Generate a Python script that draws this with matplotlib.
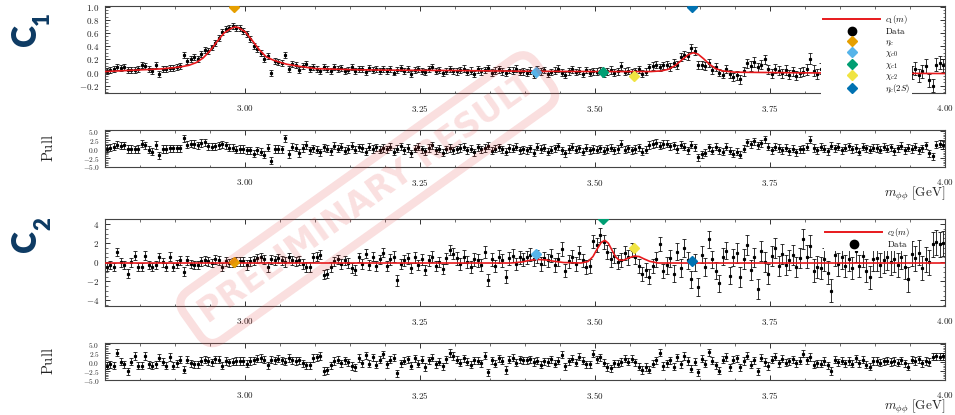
import matplotlib
matplotlib.use('Agg')
import matplotlib.pyplot as plt
import numpy as np
from matplotlib.lines import Line2D
from matplotlib.ticker import MultipleLocator, AutoMinorLocator, FuncFormatter

plt.rcParams['mathtext.fontset'] = 'cm'
plt.rcParams['font.family'] = 'DejaVu Serif'

# --- binning (2.80 - 4.00 GeV, 5 MeV bins) ---
m_lo, m_hi, n_bins = 2.80, 4.00, 240

# --- c1 coefficient: data per bin, rows of 0.1 GeV ---
c1_data = [
    0.02, 0.04, 0.05, 0.08, 0.07, 0.08, 0.04, 0.04, 0.04, 0.05, 0.12, 0.10, 0.05, 0.03, 0.11, -0.02, 0.06, 0.06, 0.07, 0.07,
    0.09, 0.10, 0.26, 0.17, 0.20, 0.24, 0.21, 0.28, 0.34, 0.33, 0.38, 0.45, 0.53, 0.62, 0.66, 0.67, 0.70, 0.68, 0.67, 0.63,
    0.58, 0.51, 0.40, 0.36, 0.30, 0.21, 0.25, -0.01, 0.18, 0.16, 0.14, 0.27, 0.05, 0.13, 0.12, 0.04, 0.10, 0.13, 0.06, 0.08,
    0.05, 0.02, 0.08, 0.06, 0.03, 0.09, 0.05, 0.07, 0.02, 0.04, 0.08, 0.03, 0.06, 0.05, 0.01, 0.07, 0.04, 0.06, 0.03, 0.05,
    0.03, 0.06, 0.00, 0.04, 0.07, 0.02, 0.05, -0.02, 0.04, 0.06, 0.03, 0.01, 0.05, 0.08, 0.02, 0.04, -0.01, 0.03, 0.05, 0.02,
    0.02, 0.04, 0.06, 0.01, 0.03, -0.02, 0.05, 0.02, 0.04, 0.07, 0.00, 0.03, 0.05, 0.02, -0.01, 0.04, 0.03, 0.06, 0.01, 0.02,
    0.00, 0.03, -0.03, 0.05, 0.02, 0.04, -0.02, 0.01, 0.03, 0.06, 0.00, -0.04, 0.02, 0.05, 0.01, 0.03, -0.02, 0.04, 0.00, 0.02,
    0.01, 0.03, -0.01, 0.02, 0.04, 0.00, 0.02, 0.10, 0.01, 0.03, 0.00, 0.02, 0.05, -0.02, 0.01, 0.08, 0.10, 0.12, 0.08, 0.11,
    0.12, 0.09, 0.14, 0.12, 0.24, 0.26, 0.25, 0.37, 0.33, 0.12, 0.12, 0.10, 0.14, 0.04, 0.08, 0.00, -0.03, 0.05, -0.02, -0.07,
    -0.04, -0.10, 0.02, 0.14, 0.10, 0.16, 0.08, 0.12, 0.20, 0.05, -0.02, 0.06, 0.03, -0.01, 0.04, -0.03, 0.02, -0.05, 0.00, 0.01,
    0.05, 0.21, 0.03, -0.02, 0.06, 0.01, -0.04, 0.08, 0.02, 0.05, -0.03, 0.04, 0.07, 0.00, 0.03, -0.05, 0.06, 0.02, -0.01, 0.04,
    0.03, -0.02, 0.07, 0.01, 0.05, -0.06, 0.02, 0.09, -0.03, 0.04, 0.00, 0.06, -0.04, 0.02, 0.10, -0.12, -0.20, 0.12, 0.15, 0.11,
]
c1_err_rows = [0.045, 0.045, 0.045, 0.045, 0.045, 0.05, 0.05, 0.055, 0.06, 0.07, 0.08, 0.10]

c1_pull = [
    0.1, 0.4, 0.7, 1.2, 0.9, 1.0, 0.0, 0.0, -0.1, 0.0, 1.5, 1.0, -0.2, -0.7, 1.1, -1.8, 0.0, 0.0, 0.2, 0.2,
    0.2, 0.2, 3.0, 1.2, 1.5, 1.4, 1.0, 1.7, 1.9, 0.8, 0.6, 0.8, 1.0, 1.3, 1.0, 0.4, 0.4, -0.2, 0.0, 0.0,
    -0.4, -0.4, -1.3, -0.4, -0.7, -1.6, 0.4, -3.3, 0.0, 0.0, -0.1, 3.0, -1.4, 0.6, 0.4, -1.1, 0.3, 1.1, -0.3, 0.2,
    -0.2, -0.9, 0.5, 0.1, -0.6, 0.9, 0.1, 0.6, -0.5, 0.0, 0.9, -0.2, 0.5, 0.3, -0.7, 0.7, 0.0, 0.5, -0.2, 0.3,
    -0.1, 0.6, -0.8, 0.1, 0.8, -0.3, 0.3, -1.2, 0.1, 0.6, -0.1, -0.6, 0.3, 1.0, -0.3, 0.1, -1.0, -0.1, 0.3, -0.3,
    -0.1, 0.3, 0.7, -0.3, 0.1, -0.9, 0.5, -0.1, 0.3, 0.9, -0.5, 0.1, 0.5, -0.1, -0.7, 0.3, 0.1, 0.7, -0.3, -0.1,
    -0.4, 0.2, -1.0, 0.6, 0.0, 0.4, -0.8, -0.2, 0.2, 0.8, -0.4, -1.2, 0.0, 0.6, -0.2, 0.2, -0.8, 0.4, -0.4, 0.0,
    -0.2, 0.2, -0.5, 0.0, 0.4, -0.4, 0.0, 1.5, -0.2, 0.2, -0.4, 0.0, 0.5, -0.7, -0.2, 1.1, 1.4, 1.7, 0.9, 1.4,
    1.5, 0.8, 1.0, 0.0, 1.2, 0.7, -0.3, 1.2, 0.5, -2.3, -1.5, -1.0, 0.5, -0.5, 0.6, -0.4, -0.8, 0.7, -0.5, -1.3,
    -0.7, -1.6, 0.1, 1.9, 1.3, 2.1, 1.0, 1.6, 2.7, 0.6, -0.4, 0.7, 0.3, -0.3, 0.4, -0.6, 0.1, -0.9, -0.1, 0.0,
    0.6, 2.6, 0.3, -0.3, 0.7, 0.1, -0.6, 0.9, 0.2, 0.6, -0.4, 0.4, 0.8, -0.1, 0.3, -0.7, 0.7, 0.2, -0.2, 0.4,
    0.3, -0.2, 0.7, 0.1, 0.5, -0.6, 0.2, 0.9, -0.3, 0.4, 0.0, 0.6, -0.4, 0.2, 1.0, -1.2, -2.0, 1.2, 1.5, 1.1,
]

c1_fit_m = [2.80, 2.83, 2.86, 2.88, 2.90, 2.91, 2.92, 2.93, 2.94, 2.95, 2.96, 2.97, 2.98, 2.985, 2.99,
            3.00, 3.01, 3.02, 3.03, 3.04, 3.05, 3.06, 3.08, 3.10, 3.13, 3.17, 3.22, 3.30, 3.40, 3.50,
            3.58, 3.595, 3.605, 3.615, 3.625, 3.633, 3.640, 3.647, 3.655, 3.663, 3.672, 3.682, 3.70,
            3.80, 3.90, 4.00]
c1_fit_y = [0.015, 0.03, 0.045, 0.055, 0.075, 0.09, 0.11, 0.15, 0.22, 0.33, 0.47, 0.60, 0.67, 0.69, 0.685,
            0.62, 0.49, 0.35, 0.24, 0.19, 0.155, 0.125, 0.09, 0.06, 0.05, 0.04, 0.035, 0.03, 0.02, 0.015,
            0.015, 0.025, 0.05, 0.11, 0.20, 0.27, 0.30, 0.28, 0.21, 0.13, 0.06, 0.025, 0.005,
            -0.005, -0.01, -0.015]

# --- c2 coefficient ---
c2_data = [
    -0.5, -0.3, -0.5, 1.1, 0.0, -0.3, -1.2, 0.0, 0.7, -0.5, -0.5, 0.7, -0.3, -0.5, -0.3, 0.5, 0.0, -0.5, 0.6, -0.5,
    -0.2, 0.2, -1.0, 0.2, -0.2, -0.3, -0.3, 0.1, 0.2, 0.1, -0.1, 0.3, 0.2, -0.5, 0.1, -0.1, 0.0, 0.1, 0.1, 0.1,
    -0.3, 0.1, 0.2, 0.4, 0.5, 0.3, -0.5, 0.3, 0.2, 0.4, 0.2, 0.0, 0.5, 0.2, 0.1, 0.2, -0.2, -0.5, -0.5, 0.5,
    0.6, 0.8, -1.3, -1.2, -0.5, 0.1, 0.3, -0.2, 0.2, -0.1, -0.6, -0.8, 0.5, -0.2, 0.9, -0.3, 0.6, -0.4, 0.3, 1.0,
    -0.4, 0.3, 0.6, -1.9, -0.2, 0.2, 0.4, -0.6, 0.5, -0.3, 0.3, -0.8, 0.2, 0.6, -0.4, 0.0, -0.7, 0.4, 1.3, 0.9,
    0.4, -0.2, 0.6, 0.0, -0.5, 0.3, 0.2, -0.3, 1.1, -1.9, 0.3, -0.4, 0.6, 0.2, -1.5, 0.4, 0.7, -0.2, 0.5, 0.3,
    0.5, 0.8, 0.3, 0.6, -0.2, 0.4, 0.2, 0.7, -0.3, 0.3, 1.4, -0.9, 0.1, 0.6, -0.2, 1.0, 0.2, -0.5, -0.4, 2.2,
    1.8, 2.9, 2.1, 1.1, 0.3, 0.7, 0.0, 0.2, 1.0, 0.5, 1.3, 0.6, -0.4, -1.2, -0.8, -1.5, -0.4, 0.3, 1.9, -0.9,
    -0.3, 0.4, -1.2, 1.1, -0.6, 1.5, 0.2, -1.8, 0.0, -2.6, 0.8, -0.5, 2.4, 0.3, -0.9, -2.2, 0.6, 1.2, -1.4, 0.5,
    1.0, -1.6, 0.3, 1.8, -0.8, 0.5, -2.8, 1.2, 0.0, -1.2, 0.7, 1.5, -0.4, 0.9, -0.3, 0.2, 0.8, -0.5, 0.4, 2.4,
    0.6, 1.7, -0.9, -0.5, -0.6, 0.3, -1.1, -3.0, 0.8, -0.2, 0.5, -0.4, 0.3, -0.6, 1.2, -0.4, 0.7, -0.9, -1.6, 0.3,
    0.4, -0.3, 0.2, 0.5, 0.0, 0.3, -0.3, 0.6, -0.5, -1.8, 0.9, 0.4, 1.0, -0.6, 0.3, 0.0, 1.9, 2.1, 1.9, 2.0,
]
c2_err_rows = [0.45, 0.45, 0.5, 0.5, 0.55, 0.65, 0.7, 0.75, 0.9, 1.05, 1.2, 1.3]

c2_pull = [
    -1.0, -0.6, -1.0, 2.6, 0.1, -0.6, -2.6, 0.1, 1.7, -1.0, -1.0, 1.7, -0.6, -1.0, -0.6, 1.2, 0.1, -1.0, 1.4, -1.0,
    -0.3, 0.6, -2.1, 0.6, -0.3, -0.6, -0.6, 0.3, 0.6, 0.3, -0.1, 0.8, 0.6, -1.0, 0.3, -0.1, 0.1, 0.3, 0.3, 0.3,
    -0.5, 0.3, 0.5, 0.9, 1.1, 0.7, -0.9, 0.7, 0.5, 0.9, 0.5, 0.1, 1.1, 0.5, 0.3, 0.5, -0.3, -0.9, -0.9, 1.1,
    1.3, 1.7, -2.5, -2.3, -0.9, 0.3, 0.7, -0.3, 0.5, -0.1, -1.1, -1.5, 1.1, -0.3, 1.9, -0.5, 1.3, -0.7, 0.7, 2.1,
    -0.6, 0.6, 1.2, -3.1, -0.3, 0.4, 0.8, -1.0, 1.0, -0.5, 0.6, -1.4, 0.5, 1.2, -0.6, 0.1, -1.2, 0.8, 2.5, 1.7,
    0.7, -0.2, 1.0, 0.1, -0.7, 0.5, 0.4, -0.4, 1.8, -2.8, 0.5, -0.5, 1.0, 0.4, -2.2, 0.7, 1.2, -0.2, 0.8, 0.5,
    0.5, 0.8, 0.0, 0.4, -0.7, 0.2, 0.0, 0.8, -0.5, 0.4, 2.0, -1.2, 0.2, 0.9, -0.2, 1.5, 0.4, -0.6, -0.6, 2.3,
    0.8, 1.3, -0.2, -1.4, -1.7, -0.3, -0.5, 0.0, 0.9, 0.1, 0.9, -0.1, -1.3, -2.2, -1.4, -2.1, -0.5, 0.5, 2.6, -1.1,
    -0.3, 0.5, -1.3, 1.3, -0.6, 1.7, 0.3, -1.9, 0.1, -2.8, 0.9, -0.5, 2.7, 0.4, -0.9, -2.4, 0.7, 1.4, -1.5, 0.6,
    1.0, -1.5, 0.3, 1.8, -0.7, 0.5, -2.6, 1.2, 0.0, -1.1, 0.7, 1.5, -0.3, 0.9, -0.2, 0.2, 0.8, -0.4, 0.4, 2.3,
    0.5, 1.4, -0.7, -0.4, -0.5, 0.3, -0.9, -2.5, 0.7, -0.1, 0.4, -0.3, 0.3, -0.5, 1.0, -0.3, 0.6, -0.7, -1.3, 0.3,
    0.3, -0.2, 0.2, 0.4, 0.0, 0.3, -0.2, 0.5, -0.3, -1.3, 0.7, 0.3, 0.8, -0.4, 0.3, 0.0, 1.5, 1.6, 1.5, 1.6,
]

c2_fit_m = [2.80, 3.38, 3.395, 3.405, 3.417, 3.43, 3.44, 3.455, 3.48, 3.49, 3.497, 3.503, 3.509, 3.514,
            3.519, 3.524, 3.529, 3.534, 3.540, 3.548, 3.556, 3.563, 3.570, 3.578, 3.59, 4.00]
c2_fit_y = [-0.08, -0.08, 0.02, 0.18, 0.30, 0.24, 0.12, -0.03, -0.08, 0.08, 0.6, 1.4, 2.1, 2.3,
            2.0, 1.3, 0.6, 0.25, 0.2, 0.45, 0.65, 0.6, 0.35, 0.1, -0.08, -0.08]

# --- charmonium states ---
states = [r'$\eta_c$', r'$\chi_{c0}$', r'$\chi_{c1}$', r'$\chi_{c2}$', r'$\eta_c(2S)$']
state_mass = [2.984, 3.415, 3.511, 3.556, 3.638]
state_colors = ['#E69F00', '#56B4E9', '#009E73', '#F0E442', '#0072B2']
c1_state_y = [1.0, 0.01, 0.01, -0.05, 1.0]
c2_state_y = [0.05, 0.9, 4.6, 1.5, 0.15]

FIT_RED = '#e8191c'
NAVY = '#0d3a63'


def math_fmt(d):
    return FuncFormatter(lambda v, p: f'${v:.{d}f}$')


def style_axis(ax, ymajor, ydec, ylim, ysize=6.5):
    ax.set_xlim(m_lo, m_hi)
    ax.set_ylim(*ylim)
    ax.xaxis.set_major_locator(MultipleLocator(0.25))
    ax.xaxis.set_minor_locator(MultipleLocator(0.05))
    ax.yaxis.set_major_locator(MultipleLocator(ymajor))
    ax.yaxis.set_minor_locator(AutoMinorLocator(4))
    ax.xaxis.set_major_formatter(math_fmt(2))
    ax.yaxis.set_major_formatter(math_fmt(ydec))
    ax.tick_params(which='both', direction='in', top=True, right=True,
                   colors='#333333', labelcolor='#222222')
    ax.tick_params(which='major', length=3.5, width=0.7)
    ax.tick_params(which='minor', length=1.8, width=0.5)
    ax.tick_params(axis='x', pad=7, labelsize=6.5)
    ax.tick_params(axis='y', pad=4, labelsize=ysize)
    for s in ax.spines.values():
        s.set_color('#444444')
        s.set_linewidth(0.8)


def draw_points(ax, y, err):
    ax.errorbar(mass, y, yerr=err, fmt='s', ms=1.3, color='k', ecolor='#111111',
                elinewidth=0.6, capsize=1.1, capthick=0.6, zorder=2)


def make_legend(ax, handles, labels):
    leg = ax.legend(handles, labels, loc='upper right', bbox_to_anchor=(0.966, 0.99),
                    fontsize=6.3, labelspacing=0.05, handleheight=0.6,
                    handlelength=6.5, handletextpad=0.6, borderpad=0.2,
                    frameon=True, fancybox=False, framealpha=1, edgecolor='none')
    leg.set_zorder(10)
    return leg


mass = m_lo + (np.arange(n_bins) + 0.5) * (m_hi - m_lo) / n_bins
c1_err = np.repeat(c1_err_rows, 20)
c2_err = np.repeat(c2_err_rows, 20)

fig = plt.figure(figsize=(9.55, 4.15), dpi=100)
L, W = 0.110, 0.8796
ax1 = fig.add_axes([L, 0.776, W, 0.2096])
ap1 = fig.add_axes([L, 0.5976, W, 0.0892])
ax2 = fig.add_axes([L, 0.2627, W, 0.2096])
ap2 = fig.add_axes([L, 0.0843, W, 0.0892])

# c1 panel
draw_points(ax1, c1_data, c1_err)
ax1.plot(c1_fit_m, c1_fit_y, color=FIT_RED, lw=1.2, zorder=3)
for mm, yy, cc in zip(state_mass, c1_state_y, state_colors):
    ax1.plot(mm, yy, 'D', color=cc, ms=5.5, zorder=5)
style_axis(ax1, 0.2, 1, (-0.31, 1.01))

h1 = [Line2D([], [], color=FIT_RED, lw=1.4),
      Line2D([], [], marker='o', ls='', color='k', ms=6)]
h1 += [Line2D([], [], marker='D', ls='', color=c, ms=5) for c in state_colors]
make_legend(ax1, h1, [r'$c_1(m)$', r'$\mathrm{Data}$'] + states)

# c2 panel
draw_points(ax2, c2_data, c2_err)
ax2.plot(c2_fit_m, c2_fit_y, color=FIT_RED, lw=1.2, zorder=3)
for mm, yy, cc in zip(state_mass, c2_state_y, state_colors):
    ax2.plot(mm, yy, 'D', color=cc, ms=5.5, zorder=5)
style_axis(ax2, 2, 0, (-4.6, 4.55))

h2 = [Line2D([], [], color=FIT_RED, lw=1.4),
      Line2D([], [], marker='o', ls='', color='k', ms=6)]
make_legend(ax2, h2, [r'$c_2(m)$', r'$\mathrm{Data}$'])

# pull panels
for ap, pull in [(ap1, c1_pull), (ap2, c2_pull)]:
    draw_points(ap, pull, np.ones(n_bins))
    style_axis(ap, 2.5, 1, (-5.0, 5.3), ysize=5.3)
    ap.yaxis.set_minor_locator(AutoMinorLocator(5))
    ap.set_ylabel(r'$\mathrm{Pull}$', fontsize=10.5, color='#222222')
    ap.yaxis.set_label_coords(-0.058, 0.5)
    ap.set_xlabel(r'$m_{\phi\phi}\ \mathrm{[GeV]}$', fontsize=9.5, color='#222222',
                  loc='right', labelpad=-2)

# panel tags
for (xc, yc, xs, ys, sub) in [(0.027, 0.915, 0.044, 0.955, '1'), (0.027, 0.42, 0.046, 0.462, '2')]:
    fig.text(xc, yc, 'C', rotation=90, fontsize=24, fontweight='heavy', family='Lato',
             color=NAVY, ha='center', va='center')
    fig.text(xs, ys, sub, rotation=90, fontsize=16, fontweight='heavy', family='Lato',
             color=NAVY, ha='center', va='center')

# preliminary stamp
fig.text(0.385, 0.52, 'PRELIMINARY RESULT', rotation=35.5, fontsize=24, fontweight='bold',
         family='DejaVu Sans', color='#e03a3a', alpha=0.16, ha='center', va='center', zorder=20,
         bbox=dict(boxstyle='round,pad=0.4,rounding_size=0.5', facecolor='none',
                   edgecolor='#e03a3a', lw=6, alpha=0.16))

fig.savefig('out.png', dpi=100)
